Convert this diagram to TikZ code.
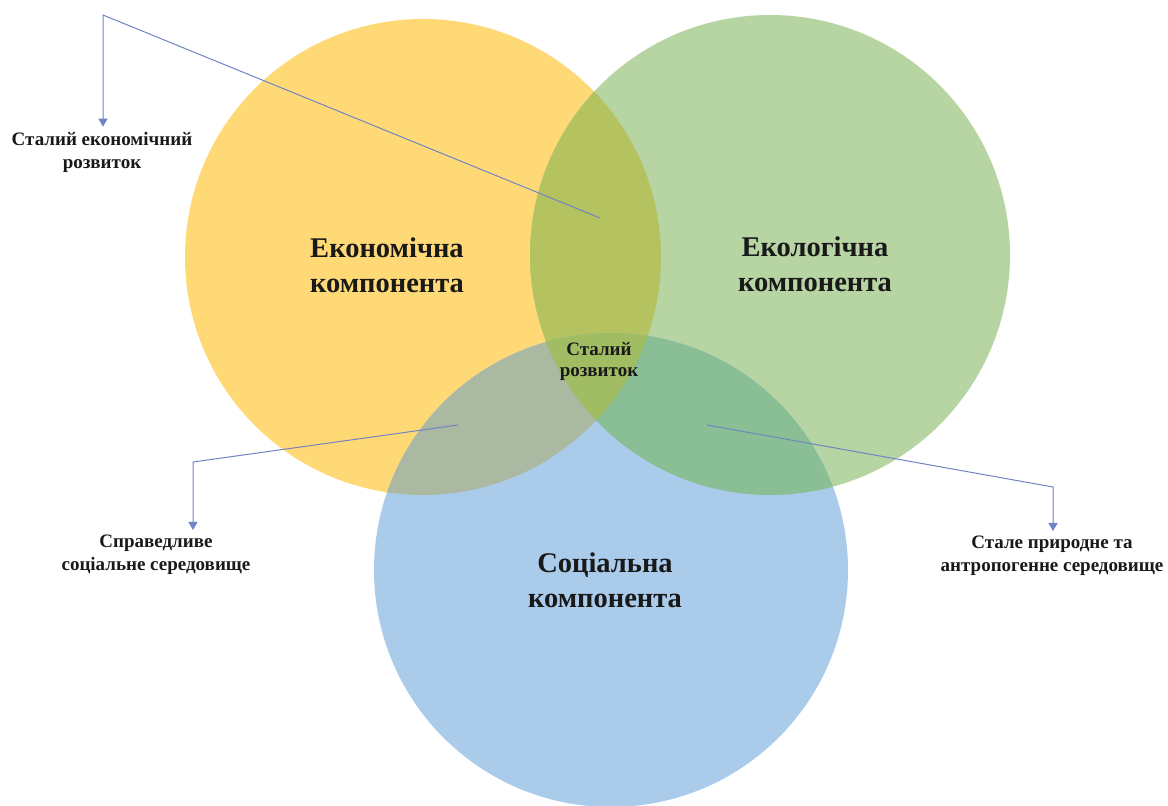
\documentclass[tikz,border=0pt]{standalone}
\usepackage{fontspec}
\setmainfont{Liberation Serif}
\usetikzlibrary{arrows.meta}
\definecolor{cy}{RGB}{255,217,118}
\definecolor{cg}{RGB}{183,212,163}
\definecolor{cb}{RGB}{170,203,234}
\definecolor{cyg}{RGB}{180,194,96}
\definecolor{cyb}{RGB}{171,185,163}
\definecolor{cgb}{RGB}{138,190,148}
\definecolor{cygb}{RGB}{160,189,100}
\definecolor{lnk}{RGB}{112,132,196}
\tikzset{
  bigtxt/.style={font=\bfseries\fontsize{28.5}{35}\selectfont, align=center, text=black!90, inner sep=0pt},
  sidetxt/.style={font=\bfseries\fontsize{19}{23}\selectfont, align=center, text=black!90, inner sep=0pt},
  midtxt/.style={font=\bfseries\fontsize{19}{21}\selectfont, align=center, text=black!90, inner sep=0pt},
  link/.style={draw=lnk, line width=1pt, -{Triangle[width=9pt,length=8pt]}}
}
\begin{document}
\begin{tikzpicture}[x=1pt,y=-1pt]
\useasboundingbox (0,0) rectangle (1168,806);
\fill[white] (0,0) rectangle (1168,806);
% circles
\fill[cy] (423,257) circle[radius=238pt];
\fill[cg] (770,255) circle[radius=240pt];
\fill[cb] (611,570) circle[radius=237pt];
% pairwise overlaps
\begin{scope}
  \clip (423,257) circle[radius=238pt];
  \fill[cyg] (770,255) circle[radius=240pt];
  \fill[cyb] (611,570) circle[radius=237pt];
\end{scope}
\begin{scope}
  \clip (770,255) circle[radius=240pt];
  \fill[cgb] (611,570) circle[radius=237pt];
  \clip (423,257) circle[radius=238pt];
  \fill[cygb] (611,570) circle[radius=237pt];
\end{scope}
% labels
\node[bigtxt] (eco) at (387,265) {Економічна\\компонента};
\node[bigtxt] (ecol) at (815,264) {Екологічна\\компонента};
\node[bigtxt] (soc) at (605,580) {Соціальна\\компонента};
\node[midtxt] (sd) at (599,361) {Сталий\\розвиток};
\node[sidetxt] (l1) at (102,152) {Сталий економічний\\розвиток};
\node[sidetxt] (l2) at (156,555) {Справедливе\\соціальне середовище};
\node[sidetxt] (l3) at (1052,556) {Стале природне та\\антропогенне середовище};
% connector points
\coordinate (p1) at (600,218);
\coordinate (k1) at (103,15);
\coordinate (p2) at (458,425);
\coordinate (k2) at (193,462);
\coordinate (p3) at (707,425);
\coordinate (k3) at (1053,487);
\draw[link] (p1) -- (k1) -- ([yshift=5pt]k1 |- l1.north);
\draw[link] (p2) -- (k2) -- ([yshift=5pt]k2 |- l2.north);
\draw[link] (p3) -- (k3) -- ([yshift=5pt]k3 |- l3.north);
\end{tikzpicture}
\end{document}
